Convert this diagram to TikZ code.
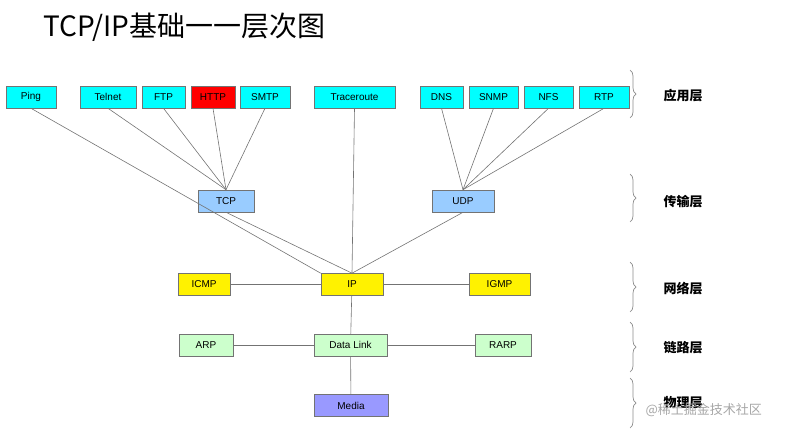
\documentclass[tikz,border=0pt]{standalone}
\usepackage{fontspec}
\setmainfont{Liberation Sans}
\newfontfamily\cjk{Noto Sans CJK SC}
\usetikzlibrary{decorations.pathreplacing}
\definecolor{aqua}{RGB}{0,255,255}
\begin{document}
\begin{tikzpicture}[x=1pt,y=-1pt,
  box/.style={draw=black!55,line width=0.6pt,minimum height=22pt,inner sep=0pt,font=\fontsize{10}{12}\selectfont},
  ln/.style={draw=black!55,line width=0.6pt},
  lay/.style={font=\cjk\bfseries\fontsize{13}{15}\selectfont,anchor=west},
  br/.style={draw=black!45,line width=0.7pt,decorate,decoration={brace,amplitude=6pt}}]
\useasboundingbox (0,0) rectangle (812,434);
\node[anchor=west,font=\cjk\fontsize{28}{32}\selectfont] (title) at (40,27) {TCP/IP基础一一层次图};
\node[box,fill=aqua,minimum width=50pt] (ping) at (31,97) {Ping};
\node[box,fill=aqua,minimum width=56pt] (telnet) at (108,97) {Telnet};
\node[box,fill=aqua,minimum width=43pt] (ftp) at (163.5,97) {FTP};
\node[box,fill=red,minimum width=44pt] (http) at (213,97) {HTTP};
\node[box,fill=aqua,minimum width=50pt] (smtp) at (265,97) {SMTP};
\node[box,fill=aqua,minimum width=81pt] (trace) at (354.5,97) {Traceroute};
\node[box,fill=aqua,minimum width=43pt] (dns) at (441.5,97) {DNS};
\node[box,fill=aqua,minimum width=49pt] (snmp) at (493.5,97) {SNMP};
\node[box,fill=aqua,minimum width=49pt] (nfs) at (548.5,97) {NFS};
\node[box,fill=aqua,minimum width=50pt] (rtp) at (604,97) {RTP};
\node[box,fill={rgb,255:red,153;green,204;blue,255},minimum width=56pt] (tcp) at (226,201) {TCP};
\node[box,fill={rgb,255:red,153;green,204;blue,255},minimum width=62pt] (udp) at (463,201) {UDP};
\node[box,fill=yellow,minimum width=52pt] (icmp) at (204,284.5) {ICMP};
\node[box,fill=yellow,minimum width=62pt] (ip) at (352,284.5) {IP};
\node[box,fill=yellow,minimum width=61pt] (igmp) at (499.5,284.5) {IGMP};
\node[box,fill={rgb,255:red,204;green,255;blue,204},minimum width=54pt] (arp) at (206,345) {ARP};
\node[box,fill={rgb,255:red,204;green,255;blue,204},minimum width=73pt] (dl) at (350.5,345) {Data Link};
\node[box,fill={rgb,255:red,204;green,255;blue,204},minimum width=56pt] (rarp) at (503,345) {RARP};
\node[box,fill={rgb,255:red,153;green,153;blue,255},minimum width=74pt] (media) at (351,405.5) {Media};
\foreach \a in {telnet,ftp,http,smtp} \draw[ln] (\a.south) -- (tcp.north);
\foreach \a in {dns,snmp,nfs,rtp} \draw[ln] (\a.south) -- (udp.north);
\draw[ln] (ping.south) -- (ip.north west);
\draw[ln] (trace.south) -- (ip.north);
\draw[ln] (tcp.south) -- (ip.north);
\draw[ln] (udp.south) -- (ip.north);
\draw[ln] (icmp) -- (ip) -- (igmp);
\draw[ln] (ip) -- (dl);
\draw[ln] (arp) -- (dl) -- (rarp);
\draw[ln] (dl) -- (media);
\coordinate (b1a) at (630,70); \coordinate (b1b) at (630,118);
\coordinate (b2a) at (630,174); \coordinate (b2b) at (630,222);
\coordinate (b3a) at (630,262); \coordinate (b3b) at (630,312);
\coordinate (b4a) at (630,322); \coordinate (b4b) at (630,372);
\coordinate (b5a) at (630,378); \coordinate (b5b) at (630,428);
\draw[br] (b1a) -- (b1b); \draw[br] (b2a) -- (b2b); \draw[br] (b3a) -- (b3b);
\draw[br] (b4a) -- (b4b); \draw[br] (b5a) -- (b5b);
\node[lay] (l1) at (660,96) {应用层};
\node[lay] (l2) at (660,202) {传输层};
\node[lay] (l3) at (660,289) {网络层};
\node[lay] (l4) at (660,348) {链路层};
\node[lay] (l5) at (660,403) {物理层};
\node[anchor=west,font=\cjk\fontsize{13}{15}\selectfont,text=black!35] (wm) at (642,410) {@稀土掘金技术社区};
\end{tikzpicture}
\end{document}
